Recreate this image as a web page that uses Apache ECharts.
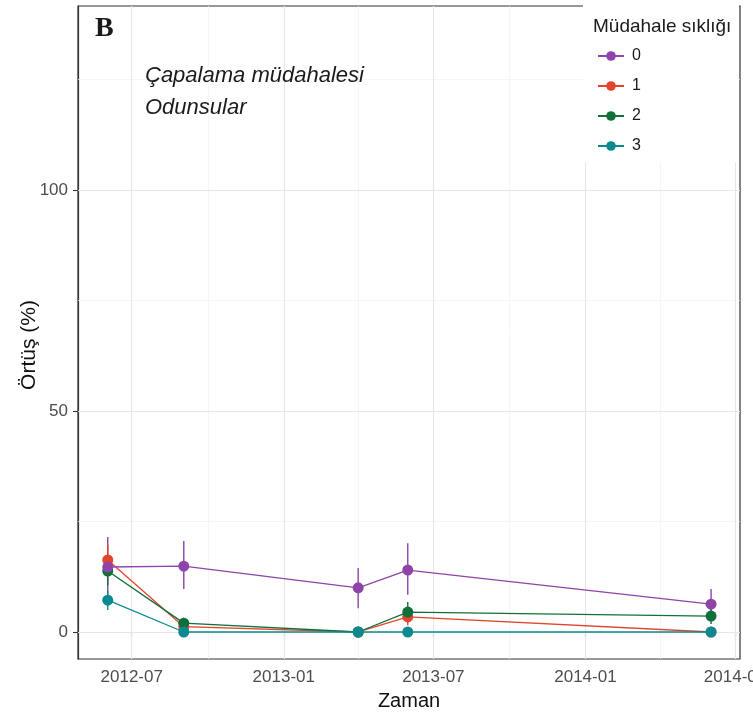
<!DOCTYPE html>
<html>
<head>
<meta charset="utf-8">
<script src="https://cdn.jsdelivr.net/npm/echarts@6/dist/echarts.min.js"></script>
<style>
  html, body { margin: 0; padding: 0; background: #ffffff; }
  #chart { width: 753px; height: 715px; }
</style>
</head>
<body>
<div id="chart"></div>
<script>
// Sampling dates
const dates = ['2012-06-02', '2012-09-02', '2013-04-01', '2013-05-31', '2014-06-02'];
// Intervention frequency groups
const groups = ['0', '1', '2', '3'];
const groupColors = ['#8E44A8', '#E2452C', '#11703A', '#0A8A90'];

// Mean cover (%) per group
const mean0 = [14.7, 14.9, 10.0, 14.0, 6.3];
const mean1 = [16.3, 1.2, 0.0, 3.4, 0.0];
const mean2 = [13.8, 2.0, 0.0, 4.5, 3.6];
const mean3 = [7.2, 0.0, 0.0, 0.0, 0.0];

// Error bar limits per group
const low0 = [7.9, 9.7, 5.4, 8.4, 2.9];
const high0 = [21.5, 20.6, 14.5, 20.1, 9.7];
const low1 = [13.0, 0.4, 0.0, 1.5, 0.0];
const high1 = [19.6, 2.0, 0.0, 5.3, 0.0];
const low2 = [10.5, 0.8, 0.0, 2.2, 1.8];
const high2 = [17.1, 3.2, 0.0, 6.8, 5.4];
const low3 = [5.0, 0.0, 0.0, 0.0, 0.0];
const high3 = [9.4, 0.0, 0.0, 0.0, 0.0];

// Axis breaks
const xMajor = ['2012-07-01', '2013-01-01', '2013-07-01', '2014-01-01', '2014-07-01'];
const xMinor = ['2012-10-01', '2013-04-01', '2013-10-01', '2014-04-01'];
const yMajor = [0, 50, 100];
const yMinor = [25, 75, 125];

const means = [mean0, mean1, mean2, mean3];
const lows = [low0, low1, low2, low3];
const highs = [high0, high1, high2, high3];

// dates are placed on a numeric axis as UTC milliseconds
function ts(s) {
  const p = s.split('-').map(Number);
  return Date.UTC(p[0], p[1] - 1, p[2]);
}
function pad(n) { return n < 10 ? '0' + n : '' + n; }

const gridLines = [];
xMinor.forEach(d => gridLines.push({ xAxis: ts(d), lineStyle: { color: '#F0F0F0', width: 0.7, type: 'solid' } }));
yMinor.forEach(v => gridLines.push({ yAxis: v, lineStyle: { color: '#F0F0F0', width: 0.7, type: 'solid' } }));
xMajor.forEach(d => gridLines.push({ xAxis: ts(d), lineStyle: { color: '#E6E6E6', width: 1.1, type: 'solid' } }));
yMajor.forEach(v => gridLines.push({ yAxis: v, lineStyle: { color: '#E6E6E6', width: 1.1, type: 'solid' } }));

const series = [];

// background grid lines
series.push({
  name: 'grid',
  type: 'line',
  data: [],
  z: 1,
  silent: true,
  markLine: {
    z: 1,
    silent: true,
    symbol: ['none', 'none'],
    label: { show: false },
    animation: false,
    data: gridLines
  }
});

// error bars
groups.forEach((g, i) => {
  series.push({
    name: 'err' + g,
    type: 'custom',
    z: 2,
    silent: true,
    data: dates.map((d, k) => [ts(d), lows[i][k], highs[i][k]]),
    renderItem: function (params, api) {
      const x = api.value(0);
      const a = api.coord([x, api.value(1)]);
      const b = api.coord([x, api.value(2)]);
      return {
        type: 'line',
        shape: { x1: a[0], y1: a[1], x2: b[0], y2: b[1] },
        style: { stroke: groupColors[i], lineWidth: 1.4 }
      };
    }
  });
});

// lines with points; group 0 drawn on top
const zOrder = [6, 3, 4, 5];
groups.forEach((g, i) => {
  series.push({
    name: g,
    type: 'line',
    z: zOrder[i],
    data: dates.map((d, k) => [ts(d), means[i][k]]),
    symbol: 'circle',
    symbolSize: 11,
    showSymbol: true,
    lineStyle: { color: groupColors[i], width: 1.3 },
    itemStyle: { color: groupColors[i] },
    emphasis: { disabled: true }
  });
});

const chart = echarts.init(document.getElementById('chart'), null, { renderer: 'canvas' });
chart.setOption({
  animation: false,
  backgroundColor: '#ffffff',
  grid: {
    left: 78, top: 6, right: 13, bottom: 56,
    outerBoundsMode: 'none',
    containLabel: false,
    show: true,
    borderColor: '#333333',
    borderWidth: 1.2,
    backgroundColor: 'transparent'
  },
  xAxis: {
    type: 'value',
    min: ts('2012-04-27'),
    max: ts('2014-07-07'),
    name: 'Zaman',
    nameLocation: 'middle',
    nameGap: 32,
    nameTextStyle: { fontFamily: 'Liberation Sans', fontSize: 20, color: '#111111' },
    axisLine: { show: true, lineStyle: { color: '#333333', width: 1.2 } },
    axisTick: { show: true, customValues: xMajor.map(ts), length: 5, lineStyle: { color: '#333333', width: 1.1 } },
    axisLabel: {
      show: true,
      customValues: xMajor.map(ts),
      margin: 10,
      fontFamily: 'Liberation Sans',
      fontSize: 17,
      color: '#4D4D4D',
      hideOverlap: false,
      formatter: function (v) {
        const d = new Date(v);
        return d.getUTCFullYear() + '-' + pad(d.getUTCMonth() + 1);
      }
    },
    splitLine: { show: false }
  },
  yAxis: {
    type: 'value',
    min: -6.11,
    max: 141.63,
    axisLine: { show: true, lineStyle: { color: '#333333', width: 1.2 } },
    axisTick: { show: true, customValues: yMajor, length: 5, lineStyle: { color: '#333333', width: 1.1 } },
    axisLabel: {
      show: true,
      customValues: yMajor,
      margin: 10,
      fontFamily: 'Liberation Sans',
      fontSize: 17,
      color: '#4D4D4D'
    },
    splitLine: { show: false }
  },
  legend: {
    data: groups,
    orient: 'vertical',
    left: 592,
    top: 43,
    itemWidth: 26,
    itemHeight: 12,
    itemGap: 14,
    z: 120,
    selectedMode: false,
    textStyle: { fontFamily: 'Liberation Sans', fontSize: 16, color: '#1A1A1A', padding: [0, 0, 0, 3] }
  },
  graphic: [
    {
      type: 'rect', z: 100, silent: true,
      shape: { x: 583, y: 0, width: 156, height: 162 },
      style: { fill: '#ffffff' }
    },
    {
      type: 'text', z: 110, silent: true, x: 593, y: 27,
      style: { text: 'Müdahale sıklığı', font: '19px "Liberation Sans"', fill: '#1A1A1A', verticalAlign: 'middle' }
    },
    {
      type: 'text', z: 110, silent: true, x: 95, y: 29,
      style: { text: 'B', font: 'bold 28px "Liberation Serif"', fill: '#1A1A1A', verticalAlign: 'middle' }
    },
    {
      type: 'text', z: 110, silent: true, x: 145, y: 76,
      style: { text: 'Çapalama müdahalesi', font: 'italic 22px "Liberation Sans"', fill: '#1A1A1A', verticalAlign: 'middle' }
    },
    {
      type: 'text', z: 110, silent: true, x: 145, y: 108,
      style: { text: 'Odunsular', font: 'italic 22px "Liberation Sans"', fill: '#1A1A1A', verticalAlign: 'middle' }
    },
    {
      type: 'text', z: 110, silent: true, x: 29, y: 345, rotation: Math.PI / 2,
      style: { text: 'Örtüş (%)', font: '21px "Liberation Sans"', fill: '#111111', align: 'center', verticalAlign: 'middle' }
    }
  ],
  series: series
});
</script>
</body>
</html>
